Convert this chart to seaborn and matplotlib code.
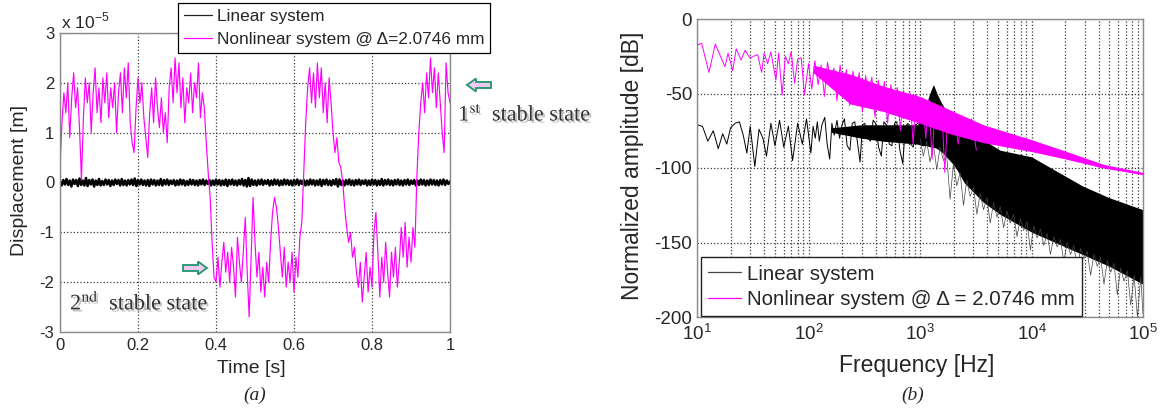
import numpy as np
import matplotlib
matplotlib.use("Agg")
import matplotlib.pyplot as plt
import matplotlib.patheffects as pe
from matplotlib.patches import FancyArrow
from matplotlib.lines import Line2D
from matplotlib.transforms import IdentityTransform
import seaborn as sns

sns.set_style("white")
plt.rcParams['font.family'] = ['Liberation Sans', 'DejaVu Sans']
plt.rcParams['mathtext.fontset'] = 'stix'
plt.rcParams['axes.unicode_minus'] = False

# ---------------- data: panel (a) time response (units of 1e-5 m) ----------------
nonlinear_disp = [
    0.3, 1.2, 1.8, 1.4, 2.0, 0.9, 1.7, 2.2, 1.5, 1.9, 1.1, 0.05, 1.3, 2.1, 1.6, 2.0, 1.0, 1.8, 2.3, 1.4,
    1.9, 1.2, 2.1, 1.6, 2.2, 1.3, 1.9, 1.5, 2.0, 1.0, 1.8, 2.2, 1.4, 2.3, 1.7, 2.4, 1.2, 0.8, 0.6, 1.5,
    2.1, 1.6, 2.0, 1.3, 0.9, 0.5, 1.4, 1.9, 1.2, 2.1, 1.5, 1.1, 1.7, 1.0, 1.4, 0.8, 1.9, 2.3, 1.6, 2.5,
    1.8, 2.4, 1.5, 2.1, 1.2, 1.9, 1.6, 2.2, 1.4, 2.0, 1.7, 2.4, 1.3, 1.8, 1.5, 0.8, 0.2, -0.3, -1.2, -1.9,
    -2.0, -1.5, -2.1, -1.6, -1.2, -1.8, -1.4, -2.0, -1.3, -1.7, -2.3, -1.1, -1.6, -2.0, -1.4, -0.7, -1.8, -2.7, -1.5, -0.3,
    -1.2, -1.9, -1.4, -2.2, -1.7, -2.3, -1.6, -2.0, -1.2, -0.6, -0.3, -0.5, -0.9, -1.4, -1.9, -1.3, -2.1, -1.6, -2.0, -1.4,
    -2.2, -1.5, -1.9, -1.1, -0.8, 0.2, 1.2, 1.9, 2.3, 1.6, 2.2, 1.5, 2.4, 1.7, 2.3, 1.4, 2.0, 1.2, 2.1, 1.6,
    1.0, 0.6, 0.9, 0.4, 0.3, 0.0, -0.5, -0.9, -1.2, -1.0, -1.5, -1.3, -1.8, -2.1, -1.6, -2.4, -1.9, -1.4, -2.2, -1.7,
    -2.1, -1.0, -0.6, -1.4, -2.3, -1.5, -2.0, -1.2, -1.8, -2.3, -1.4, -1.9, -1.3, -2.1, -1.6, -0.9, -1.5, -0.8, -1.7, -1.1,
    -1.6, -0.9, -1.3, 0.1, 1.0, 1.6, 2.0, 1.4, 2.2, 1.7, 2.5, 1.8, 2.3, 1.5, 2.2, 1.6, 1.0, 0.6, 2.4, 1.8,
    1.6]

linear_disp = [
    0.03, -0.06, 0.05, -0.04, 0.07, -0.05, 0.04, -0.08, 0.06, -0.03, 0.05, -0.07, 0.08, -0.05, 0.04, -0.06,
    0.09, -0.07, 0.05, -0.04, 0.06, -0.08, 0.04, -0.05, 0.07, -0.06, 0.03, -0.05, 0.06, -0.04, 0.05, -0.07,
    0.04, -0.05, 0.06, -0.03, 0.05, -0.06, 0.07, -0.05, 0.04, -0.06, 0.05, -0.04, 0.06, -0.05, 0.08, -0.07,
    0.05, -0.04, 0.06, -0.05, 0.04, -0.06, 0.05, -0.07, 0.06, -0.04, 0.05, -0.06, 0.04, -0.05, 0.07, -0.06,
    0.05, -0.04, 0.06, -0.05, 0.04, -0.03, 0.05, -0.06, 0.04, -0.05, 0.06, -0.04, 0.05, -0.06, 0.03, -0.05,
    0.06, -0.04, 0.05, -0.05, 0.04, -0.06, 0.05, -0.04, 0.06, -0.05, 0.04, -0.03, 0.05, -0.06, 0.04, -0.05,
    0.06, -0.04, 0.05, -0.06, 0.04, -0.05, 0.06, -0.07, 0.05, -0.04, 0.06, -0.05, 0.04, -0.06, 0.05, -0.04,
    0.07, -0.06, 0.05, -0.08, 0.09, -0.07, 0.06, -0.05, 0.04, -0.06, 0.05, -0.04, 0.06, -0.05, 0.04, -0.03,
    0.05, -0.06, 0.04, -0.05, 0.06, -0.04, 0.05, -0.06, 0.04, -0.05, 0.06, -0.04, 0.05, -0.05, 0.04, -0.06,
    0.05, -0.04, 0.06, -0.05, 0.04, -0.03, 0.05, -0.06, 0.04, -0.05, 0.06, -0.04, 0.05, -0.06, 0.04, -0.05,
    0.06, -0.07, 0.05, -0.04, 0.06, -0.05, 0.04, -0.06, 0.05, -0.04, 0.07, -0.08, 0.06, -0.05, 0.04, -0.06,
    0.05, -0.04, 0.06, -0.05, 0.04, -0.06, 0.05, -0.04, 0.06, -0.05, 0.04, -0.03, 0.05, -0.06, 0.04, -0.05,
    0.06, -0.04, 0.05, -0.06, 0.04, -0.05, 0.07, -0.06, 0.05, -0.04, 0.06, -0.05, 0.04, -0.06, 0.05, -0.04,
    0.06, -0.05, 0.04, -0.06, 0.05, -0.04, 0.06, -0.05, 0.04, -0.03, 0.05, -0.06, 0.04, -0.05, 0.06, -0.04,
    0.05, -0.06, 0.04, -0.05, 0.06, -0.04, 0.05, -0.05, 0.04, -0.06, 0.05, -0.04, 0.06, -0.05, 0.04, -0.03,
    0.02]

time_ticks = [0, 0.2, 0.4, 0.6, 0.8, 1.0]
time_tick_labels = ["0", "0.2", "0.4", "0.6", "0.8", "1"]
disp_ticks = [-3, -2, -1, 0, 1, 2, 3]

# ---------------- data: panel (b) spectra ----------------
mag_line_f = [10, 11, 12.8, 14.6, 16, 17.8, 19, 20.9, 22.5, 24.8, 27, 29.9, 32, 35, 38, 40, 43, 46, 51, 54,
              58, 62, 66, 70, 75, 80, 86, 92,
              100, 107, 114, 122, 130, 139, 148, 158, 169, 180, 192, 205, 219, 234, 250, 267, 285, 304, 325,
              347, 370, 395, 422, 450, 480, 513, 548, 585, 625, 667, 712, 760, 812, 867, 925, 988, 1055, 1126,
              1202, 1284, 1371, 1464, 1563, 1669, 1782, 1903, 2032, 2200, 2400, 2650, 2900, 3200]
mag_line_db = [-17.4, -16.3, -35.8, -16.8, -24, -32, -23, -34.6, -20, -27.5, -21, -26.3, -25, -24, -35.8, -23,
               -30, -22, -41, -23, -51, -25, -30, -22, -43, -27, -26, -51,
               -30, -47, -28, -44, -31, -52, -29, -41, -33, -55, -31, -46, -34, -58, -35, -49, -36, -62, -38,
               -51, -39, -66, -41, -55, -42, -70, -44, -58, -46, -75, -48, -62, -49, -84, -51, -66, -53, -80,
               -54, -94, -57, -72, -58, -103, -61, -76, -63, -84, -65, -78, -67, -88]

mag_band_f = [110, 236, 466, 1000, 1860, 3700, 10000, 19000, 44000, 100000]
mag_band_hi = [-31, -37, -45, -52, -61, -71, -81, -88, -97.5, -103]
mag_band_lo = [-36, -57, -62, -70, -77, -83, -89, -93.5, -100, -104.5]

lin_line_f = [10, 11.2, 12.5, 14, 15.5, 17, 18.5, 20, 22, 24, 26, 28, 30, 33, 36, 39, 42, 46, 50, 55, 60, 66,
              72, 80, 88, 96, 105, 110, 115, 120, 125, 132, 140, 147, 155, 162, 170, 180, 190, 200, 210, 222,
              235, 247, 260, 275, 290, 305, 320, 340, 360, 380, 400, 425, 450, 475, 500, 530, 560, 590, 620,
              660, 700, 740, 780, 825, 870, 915, 960]
lin_line_db = [-71, -72, -82, -75, -87, -77, -84, -73, -70, -69, -78, -90, -72, -99, -74, -80, -92, -70, -85,
               -68, -86, -72, -95, -70, -84, -67, -90, -72, -80, -69, -82, -71, -66, -84, -94, -70, -78, -68,
               -80, -71, -67, -85, -88, -70, -69, -83, -96, -71, -70, -80, -82, -68, -70, -86, -92, -69, -71,
               -84, -85, -70, -69, -88, -97, -72, -70, -84, -86, -71, -70]

lin_band_f = [160, 300, 466, 950, 1050, 1150, 1250, 1320, 1420, 1550, 1700, 1900, 2100, 2500, 3700, 5200,
              10000, 28600, 50000, 100000]
lin_band_hi = [-73, -71, -71, -71, -64, -56, -48, -44, -50, -56, -61, -66, -70, -76, -81, -88, -92.5, -112,
               -120, -128]
lin_band_lo = [-76, -80, -82, -84, -85, -85, -86, -86, -87, -89, -92, -96, -100, -110, -123, -131, -143,
               -158, -166, -178]

lin_spike_f = [1000, 1072, 1148, 1230, 1318, 1413, 1514, 1622, 1738, 1862, 1995, 2138, 2291, 2455, 2630, 2818,
               3020, 3236, 3467, 3715, 3981, 4266, 4571, 4898, 5248, 5623, 6026, 6457, 6918, 7413, 7943, 8511,
               9120, 9772, 10471, 11220, 12023, 12882, 13804, 14791, 15849, 16982, 18197, 19498, 20893, 22387,
               23988, 25704, 27542, 29512, 31623, 33884, 36308, 38905, 41687, 44668, 47863, 51286, 54954,
               58884, 63096, 67608, 72444, 77625, 83176, 89125, 95499, 100000]
lin_spike_db = [-80, -92, -82, -96, -84, -101, -86, -95, -92, -121, -97, -112, -103, -125, -108, -119, -113,
                -131, -117, -128, -120, -137, -123, -133, -126, -140, -129, -137, -131, -146, -134, -142, -136,
                -155, -139, -147, -141, -152, -144, -158, -146, -153, -148, -163, -150, -158, -152, -168, -154,
                -161, -156, -172, -158, -166, -160, -178, -162, -170, -164, -185, -167, -176, -169, -192, -172,
                -200, -173, -198]

freq_ticks = [10, 100, 1000, 10000, 100000]
db_ticks = [-200, -150, -100, -50, 0]

MAG = '#ff00ff'
GRIDC = '#3a3a3a'
SPINE = '#8a8a8a'

fig = plt.figure(figsize=(11.6, 4.12), dpi=100)
ax1 = fig.add_axes([60 / 1160, 80 / 412, 390 / 1160, 299 / 412])
ax2 = fig.add_axes([697 / 1160, 95 / 412, 446 / 1160, 298 / 412])

# ---------------- panel (a) ----------------
t_nl = np.linspace(0, 1, len(nonlinear_disp))
t_lin = np.linspace(0, 1, len(linear_disp))
sns.lineplot(x=t_lin, y=linear_disp, ax=ax1, color='black', lw=1.8, estimator=None, sort=False)
sns.lineplot(x=t_nl, y=nonlinear_disp, ax=ax1, color=MAG, lw=0.85, estimator=None, sort=False)
ax1.set_xlim(0, 1)
ax1.set_ylim(-3, 3)
ax1.set_xticks(time_ticks)
ax1.set_xticklabels(time_tick_labels)
ax1.set_yticks(disp_ticks)
ax1.set_yticklabels([str(v) for v in disp_ticks])
ax1.grid(True, linestyle=':', color=GRIDC, lw=0.9)
ax1.tick_params(labelsize=12, direction='in', length=3, color=SPINE, pad=4)
for s in ax1.spines.values():
    s.set_color(SPINE)
    s.set_linewidth(1.0)
ax1.set_xlabel("Time [s]", fontsize=14)
ax1.set_ylabel("Displacement [m]", fontsize=14)
ax1.xaxis.set_label_coords(0.49, -0.095)
ax1.yaxis.set_label_coords(-0.082, 0.508)
fig.text(61 / 1160, 1 - 21 / 412, r"x 10$^{\mathregular{-5}}$", fontsize=12.5, va='center', ha='left')

leg_handles = [Line2D([], [], color='#222222', lw=0.9), Line2D([], [], color=MAG, lw=0.9)]
leg1 = fig.legend(leg_handles, ["Linear system", "Nonlinear system @ \u0394=2.0746 mm"],
                  loc='upper left', bbox_to_anchor=(178 / 1160, 1 - 3 / 412), fontsize=12.4,
                  handlelength=1.6, handletextpad=0.3, borderpad=0.35, labelspacing=0.45,
                  borderaxespad=0, fancybox=False, framealpha=1, edgecolor='black')
leg1.get_frame().set_linewidth(0.9)

# ---------------- panel (b) ----------------
ax2.fill_between(lin_band_f, lin_band_lo, lin_band_hi, color='black', lw=0, zorder=2)
sns.lineplot(x=lin_spike_f, y=lin_spike_db, ax=ax2, color='#444444', lw=0.5, estimator=None, sort=False, zorder=2)
sns.lineplot(x=lin_line_f, y=lin_line_db, ax=ax2, color='black', lw=0.7, estimator=None, sort=False, zorder=2)
ax2.fill_between(mag_band_f, mag_band_lo, mag_band_hi, color=MAG, lw=0, zorder=3)
sns.lineplot(x=mag_line_f, y=mag_line_db, ax=ax2, color=MAG, lw=0.7, estimator=None, sort=False, zorder=3)
ax2.set_xscale('log')
ax2.set_xlim(10, 1e5)
ax2.set_ylim(-200, 0)
ax2.set_xticks(freq_ticks)
ax2.set_yticks(db_ticks)
ax2.grid(True, which='major', linestyle=':', color=GRIDC, lw=0.9)
ax2.grid(True, which='minor', axis='x', linestyle=':', color=GRIDC, lw=0.9)
ax2.tick_params(axis='y', labelsize=13.5, direction='in', length=3, color=SPINE)
ax2.tick_params(axis='x', labelsize=13.5, direction='in', length=3, color=SPINE, pad=5)
ax2.tick_params(axis='x', which='minor', direction='in', length=2, color=SPINE)
for s in ax2.spines.values():
    s.set_color(SPINE)
    s.set_linewidth(1.0)
ax2.set_xlabel("Frequency [Hz]", fontsize=16.5)
ax2.set_ylabel("Normalized amplitude [dB]", fontsize=16.5)
ax2.xaxis.set_label_coords(0.493, -0.124)
ax2.yaxis.set_label_coords(-0.119, 0.507)

leg_handles2 = [Line2D([], [], color='#444444', lw=0.9), Line2D([], [], color=MAG, lw=0.9)]
leg2 = fig.legend(leg_handles2, ["Linear system", "Nonlinear system @ \u0394 = 2.0746 mm"],
                  loc='lower left', bbox_to_anchor=(701 / 1160, 1 - 316 / 412), fontsize=14.8,
                  handlelength=1.6, handletextpad=0.3, borderpad=0.35, labelspacing=0.3,
                  borderaxespad=0, fancybox=False, framealpha=1, edgecolor='#222222')
leg2.get_frame().set_linewidth(1.0)

# ---------------- annotations ----------------
shadow = [pe.withSimplePatchShadow(offset=(1.5, -1.5), shadow_rgbFace='#888888', alpha=0.5)]
fig.text(458 / 1160, 1 - 115 / 412, r"1$^{\mathrm{st}}$  stable state", fontsize=16,
         family=['Liberation Serif'], color='#333333', va='center', ha='left', path_effects=shadow)
fig.text(70 / 1160, 1 - 303 / 412, r"2$^{\mathrm{nd}}$  stable state", fontsize=16,
         family=['Liberation Serif'], color='#333333', va='center', ha='left', path_effects=shadow)

for (x0, y0, dx) in [(491, 412 - 85, -24), (183, 412 - 268, 24)]:
    arr = FancyArrow(x0, y0, dx, 0, width=6, head_width=13, head_length=9, length_includes_head=True,
                     fc='#f3c8ef', ec='#2e9a78', lw=1.4, transform=IdentityTransform())
    fig.patches.append(arr)

fig.text(255 / 1160, 1 - 395 / 412, "(a)", fontsize=14, family=['Liberation Serif'], style='italic',
         ha='center', va='center')
fig.text(913 / 1160, 1 - 395 / 412, "(b)", fontsize=14, family=['Liberation Serif'], style='italic',
         ha='center', va='center')

fig.savefig("out.png", dpi=100)
